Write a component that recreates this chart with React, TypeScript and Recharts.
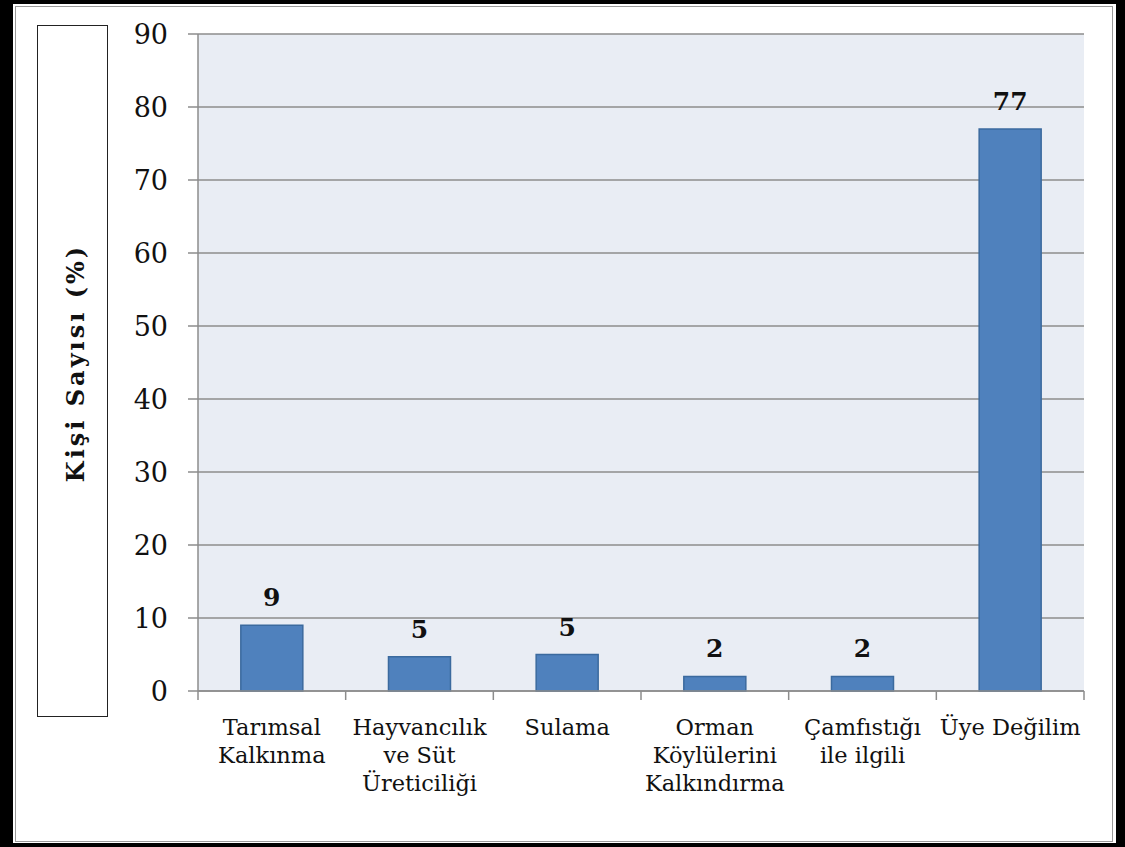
import React from 'react';
import { BarChart, Bar, XAxis, YAxis, CartesianGrid, LabelList } from 'recharts';

const categories = [
  'Tarımsal Kalkınma',
  'Hayvancılık ve Süt Üreticiliği',
  'Sulama',
  'Orman Köylülerini Kalkındırma',
  'Çamfıstığı ile ilgili',
  'Üye Değilim',
];
const categoryLines = [
  ['Tarımsal', 'Kalkınma'],
  ['Hayvancılık', 've Süt', 'Üreticiliği'],
  ['Sulama'],
  ['Orman', 'Köylülerini', 'Kalkındırma'],
  ['Çamfıstığı', 'ile ilgili'],
  ['Üye Değilim'],
];
const values = [9, 4.7, 5, 2, 2, 77];
const yTicks = [0, 10, 20, 30, 40, 50, 60, 70, 80, 90];

const data = categories.map((c, i) => ({ name: c, value: values[i], idx: i }));

const FONT = '"DejaVu Serif", "Liberation Serif", serif';
const PLOT_LEFT = 198;
const PLOT_RIGHT = 1084;
const BAND = (PLOT_RIGHT - PLOT_LEFT) / categories.length;

const XTick = (props: any) => {
  const { x, y, payload, index } = props;
  const i0 = payload.index ?? index;
  const lines = categoryLines[i0] || [payload.value];
  const ay = y - 8;
  return (
    <g>
      <line x1={x - BAND / 2} x2={x - BAND / 2} y1={ay} y2={ay + 9} stroke="#8c8c8c" strokeWidth={1.5} />
      {i0 === categories.length - 1 && (
        <line x1={x + BAND / 2} x2={x + BAND / 2} y1={ay} y2={ay + 9} stroke="#8c8c8c" strokeWidth={1.5} />
      )}
      <text x={x} y={ay} textAnchor="middle" fontFamily={FONT} fontSize={22.5} fill="#111">
        {lines.map((l: string, i: number) => (
          <tspan key={i} x={x} dy={i === 0 ? 44 : 28}>
            {l}
          </tspan>
        ))}
      </text>
    </g>
  );
};

export default function App() {
  return (
    <div style={{ position: 'absolute', left: 0, top: 0, width: 1125, height: 847, background: '#000' }}>
      <div style={{ position: 'absolute', left: 13, top: 4, width: 1103, height: 839, background: '#fff' }} />
      <div style={{ position: 'absolute', left: 15, top: 6, width: 1098, height: 836, border: '1px solid #999', boxSizing: 'border-box' }} />
      <div
        style={{
          position: 'absolute',
          left: 37,
          top: 25,
          width: 71,
          height: 692,
          border: '1.5px solid #222',
          boxSizing: 'border-box',
        }}
      />
      <div
        style={{
          position: 'absolute',
          left: 75,
          top: 363,
          transform: 'translate(-50%, -50%) rotate(-90deg)',
          whiteSpace: 'nowrap',
          fontFamily: FONT,
          fontWeight: 'bold',
          fontSize: 24,
          letterSpacing: 3,
          color: '#111',
        }}
      >
        Kişi Sayısı (%)
      </div>
      <div style={{ position: 'absolute', left: 0, top: 0 }}>
        <BarChart
          width={1125}
          height={847}
          data={data}
          margin={{ top: 34, right: 1125 - PLOT_RIGHT, left: PLOT_LEFT - 80, bottom: 0 }}
          barCategoryGap="29%"
        >
          <CartesianGrid vertical={false} stroke="#8c8c8c" strokeWidth={1.5} fill="#E9EDF4" />
          <XAxis
            dataKey="name"
            height={156}
            axisLine={{ stroke: '#8c8c8c', strokeWidth: 1.5 }}
            tickLine={false}
            tick={<XTick />}
            interval={0}
          />
          <YAxis
            width={80}
            domain={[0, 90]}
            ticks={yTicks}
            interval={0}
            axisLine={{ stroke: '#8c8c8c', strokeWidth: 1.5 }}
            tickLine={{ stroke: '#8c8c8c', strokeWidth: 1.5 }}
            tickSize={10}
            tickMargin={20}
            tick={{ fontFamily: FONT, fontSize: 27, fill: '#111' }}
          />
          <Bar dataKey="value" fill="#4F81BD" stroke="#3B6A9E" strokeWidth={1.5} isAnimationActive={false}>
            <LabelList
              dataKey="value"
              position="top"
              offset={19}
              formatter={(v: any) => Math.round(Number(v))}
              style={{ fontFamily: FONT, fontWeight: 'bold', fontSize: 25, fill: '#111' }}
            />
          </Bar>
        </BarChart>
      </div>
    </div>
  );
}
